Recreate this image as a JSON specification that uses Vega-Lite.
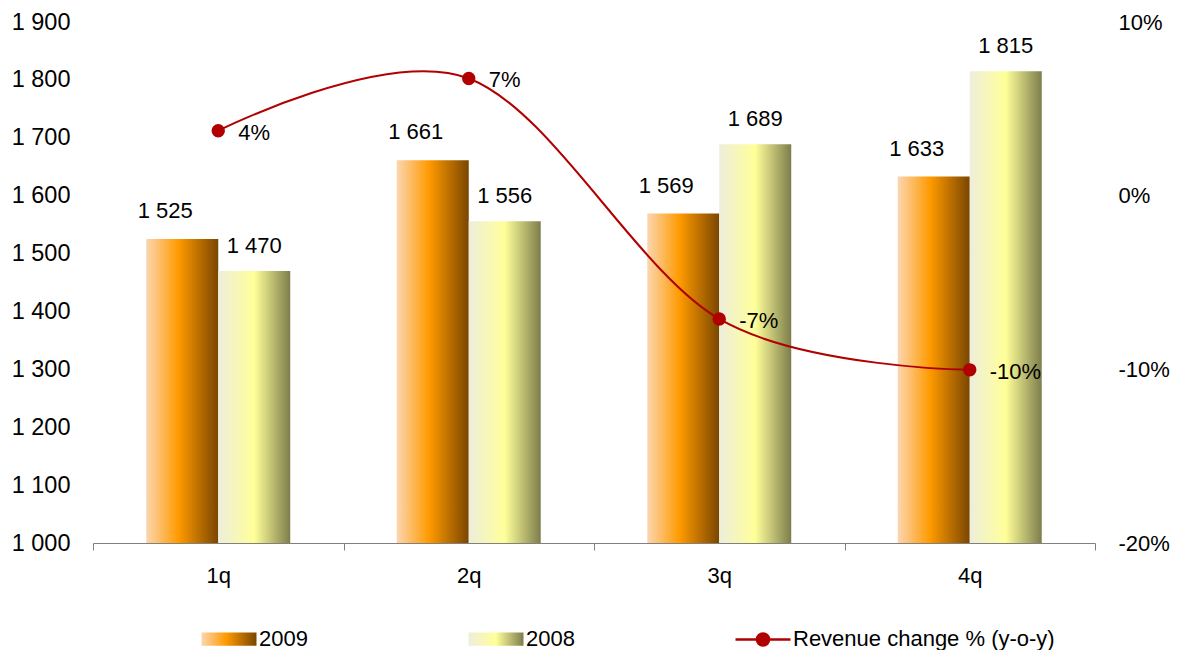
{
  "$schema": "https://vega.github.io/schema/vega-lite/v6.json",
  "width": 1002,
  "height": 521,
  "autosize": {"type": "none"},
  "padding": {"left": 93, "top": 22, "right": 83, "bottom": 107},
  "background": "white",
  "config": {
    "locale": {"number": {"decimal": ",", "thousands": " ", "grouping": [3], "currency": ["", ""], "minus": "-"}},
    "font": "Liberation Sans",
    "view": {"stroke": null},
    "axis": {"labelFont": "Liberation Sans", "labelFontSize": 22, "labelColor": "black", "grid": false, "title": null}
  },
  "datasets": {
    "bars": [
      {"quarter": "1q", "series": "2009", "value": 1525},
      {"quarter": "1q", "series": "2008", "value": 1470},
      {"quarter": "2q", "series": "2009", "value": 1661},
      {"quarter": "2q", "series": "2008", "value": 1556},
      {"quarter": "3q", "series": "2009", "value": 1569},
      {"quarter": "3q", "series": "2008", "value": 1689},
      {"quarter": "4q", "series": "2009", "value": 1633},
      {"quarter": "4q", "series": "2008", "value": 1815}
    ],
    "change": [
      {"quarter": "1q", "series": "Revenue change % (y-o-y)", "change": 0.0374},
      {"quarter": "2q", "series": "Revenue change % (y-o-y)", "change": 0.0675},
      {"quarter": "3q", "series": "Revenue change % (y-o-y)", "change": -0.071},
      {"quarter": "4q", "series": "Revenue change % (y-o-y)", "change": -0.1003}
    ]
  },
  "encoding": {
    "x": {
      "field": "quarter", "type": "nominal", "sort": ["1q", "2q", "3q", "4q"],
      "scale": {"paddingInner": 0, "paddingOuter": 0},
      "axis": {"title": null, "labelAngle": 0, "domainColor": "#808080", "tickColor": "#808080", "tickSize": 7, "tickBand": "extent", "labelPadding": 15, "labelFontSize": 22}
    }
  },
  "layer": [
    {
      "data": {"name": "bars"},
      "layer": [
        {
          "mark": {"type": "bar"},
          "encoding": {
            "xOffset": {"field": "series", "type": "nominal", "scale": {"domain": ["2009", "2008"], "paddingInner": 0, "paddingOuter": 0.74}},
            "y": {
              "field": "value", "type": "quantitative",
              "scale": {"domain": [1000, 1900], "zero": false, "nice": false},
              "axis": {"values": [1000, 1100, 1200, 1300, 1400, 1500, 1600, 1700, 1800, 1900], "format": ",d", "domain": false, "ticks": false, "labelPadding": 23, "labelFontSize": 23.5}
            },
            "y2": {"datum": 1000},
            "fill": {
              "condition": {"test": "datum.series === '2009'", "value": {"gradient": "linear", "stops": [{"offset": 0, "color": "#FCD6B0"}, {"offset": 0.45, "color": "#FF9A00"}, {"offset": 1, "color": "#7A4600"}]}},
              "value": {"gradient": "linear", "stops": [{"offset": 0, "color": "#EEEEDC"}, {"offset": 0.5, "color": "#FFFF99"}, {"offset": 1, "color": "#7D7D4C"}]}
            }
          }
        },
        {
          "transform": [{"filter": "datum.series === '2009'"}],
          "mark": {"type": "text", "baseline": "bottom", "dx": -17, "dy": -16, "fontSize": 22, "font": "Liberation Sans", "color": "black"},
          "encoding": {
            "xOffset": {"field": "series", "type": "nominal"},
            "y": {"field": "value", "type": "quantitative"},
            "text": {"field": "value", "type": "quantitative", "format": ",d"}
          }
        },
        {
          "transform": [{"filter": "datum.series === '2008'"}],
          "mark": {"type": "text", "baseline": "bottom", "dy": -13, "fontSize": 22, "font": "Liberation Sans", "color": "black"},
          "encoding": {
            "xOffset": {"field": "series", "type": "nominal"},
            "y": {"field": "value", "type": "quantitative"},
            "text": {"field": "value", "type": "quantitative", "format": ",d"}
          }
        }
      ]
    },
    {
      "data": {"name": "change"},
      "layer": [
        {
          "mark": {"type": "line", "interpolate": "cardinal", "strokeWidth": 2, "point": {"filled": true, "size": 130, "color": "#B00000"}},
          "encoding": {
            "y": {
              "field": "change", "type": "quantitative",
              "scale": {"domain": [-0.2, 0.1], "zero": false, "nice": false},
              "axis": {"orient": "right", "values": [-0.2, -0.1, 0, 0.1], "format": ".0%", "domain": false, "ticks": false, "labelPadding": 23}
            },
            "stroke": {
              "field": "series", "type": "nominal",
              "scale": {"domain": ["2009", "2008", "Revenue change % (y-o-y)"], "range": ["transparent", "transparent", "#B00000"]},
              "legend": {
                "title": null, "orient": "none", "legendX": 107, "legendY": 588,
                "direction": "horizontal", "columns": 3, "columnPadding": 155,
                "labelFontSize": 22, "labelFont": "Liberation Sans", "labelColor": "black", "labelLimit": 400,
                "symbolSize": 3025, "labelOffset": 1, "padding": 0,
                "encode": {
                  "symbols": {
                    "update": {
                      "shape": {"signal": "datum.value === 'Revenue change % (y-o-y)' ? 'M-1,0H1M-0.22,0A0.22,0.22 0 1,1 0.22,0A0.22,0.22 0 1,1 -0.22,0Z' : 'M-1,-0.24H1V0.24H-1Z'"},
                      "strokeWidth": {"value": 2.5},
                      "fill": {"signal": "datum.value === '2009' ? {gradient: 'linear', stops: [{offset: 0, color: '#FCD6B0'}, {offset: 0.45, color: '#FF9A00'}, {offset: 1, color: '#7A4600'}]} : datum.value === '2008' ? {gradient: 'linear', stops: [{offset: 0, color: '#EEEEDC'}, {offset: 0.5, color: '#FFFF99'}, {offset: 1, color: '#7D7D4C'}]} : '#B00000'"},
                      "size": {"value": 3025},
                      "opacity": {"value": 1}
                    }
                  }
                }
              }
            }
          }
        },
        {
          "mark": {"type": "text", "align": "left", "baseline": "middle", "dx": 20, "dy": 2, "fontSize": 22, "font": "Liberation Sans", "color": "black"},
          "encoding": {
            "y": {"field": "change", "type": "quantitative"},
            "text": {"field": "change", "type": "quantitative", "format": ".0%"}
          }
        }
      ]
    }
  ],
  "resolve": {"scale": {"y": "independent"}}
}
